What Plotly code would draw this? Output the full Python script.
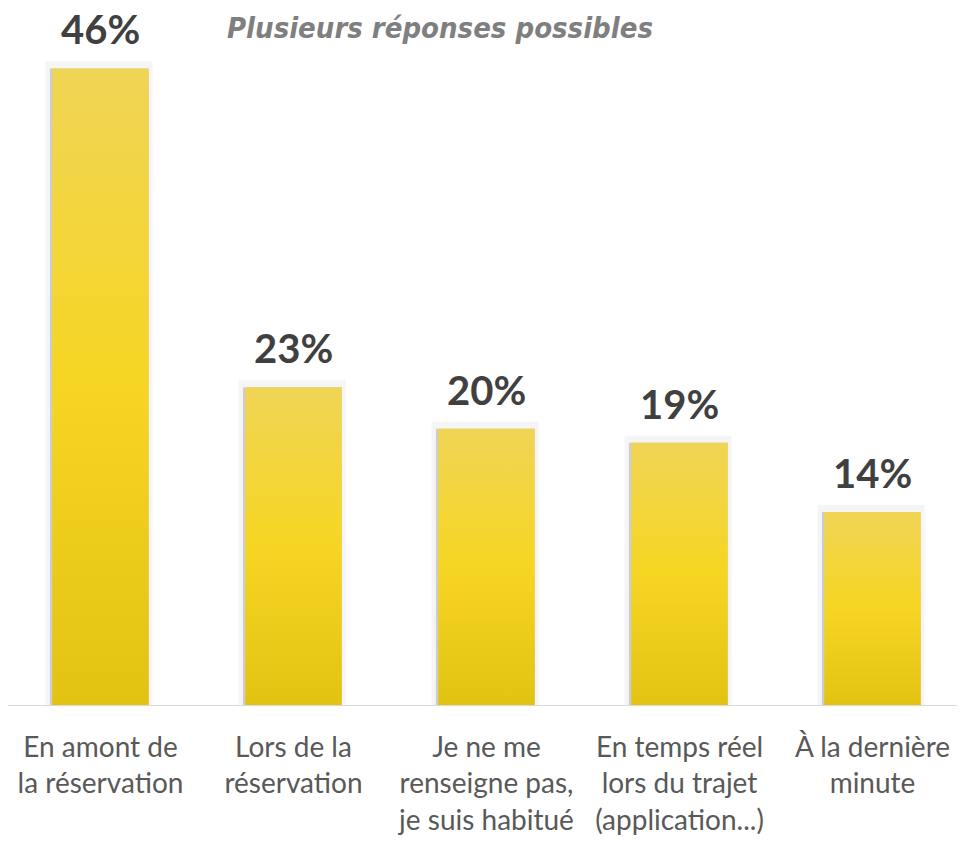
import plotly.graph_objects as go

categories = ["En amont de<br>la réservation", "Lors de la<br>réservation",
              "Je ne me<br>renseigne pas,<br>je suis habitué",
              "En temps réel<br>lors du trajet<br>(application...)",
              "À la dernière<br>minute"]
values = [46, 23, 20, 19, 14]
labels = ["46%", "23%", "20%", "19%", "14%"]

half = 0.25  # half bar width in category units

fig = go.Figure()

for i, v in enumerate(values):
    xs = [i - half, i - half, i + half, i + half, i - half]
    ys = [0, v, v, 0, 0]
    # soft shadow
    fig.add_trace(go.Scatter(x=[x - 0.035 if k in (0, 1, 4) else x + 0.02 for k, x in enumerate(xs)],
                             y=[y + 0.5 if y > 0 else 0 for y in ys],
                             fill="toself", fillcolor="rgba(0,0,0,0.04)", mode="none",
                             hoverinfo="skip", showlegend=False))
    fig.add_trace(go.Scatter(x=[x - 0.012 if k in (0, 1, 4) else x for k, x in enumerate(xs)],
                             y=ys, fill="toself", fillcolor="rgba(0,0,0,0.16)", mode="none",
                             hoverinfo="skip", showlegend=False))
    fig.add_trace(go.Scatter(x=xs, y=ys, fill="toself", mode="none",
                             fillgradient=dict(type="vertical", start=0, stop=v,
                                               colorscale=[[0, "#E3C312"], [0.5, "#F6D622"],
                                                           [1, "#F0D455"]]),
                             hoverinfo="skip", showlegend=False))
    fig.add_annotation(x=i, y=v, text=labels[i], showarrow=False, yanchor="bottom",
                       yshift=14, borderpad=0,
                       font=dict(family="Lato", size=40, color="#404040", weight="bold"))

# page body has an 8px margin, so the figure is laid out 8px in from the top/left
fig.add_annotation(text="<i><b>Plusieurs réponses possibles</b></i>", xref="paper", yref="paper",
                   x=432 / 965, y=(698 - 20) / 693, showarrow=False, yanchor="middle",
                   font=dict(family="DejaVu Sans Condensed", size=29, color="#7f7f7f"))

fig.update_layout(
    width=965, height=842,
    margin=dict(l=0, r=0, t=5, b=144),
    plot_bgcolor="white", paper_bgcolor="white",
    xaxis=dict(tickvals=list(range(len(categories))), ticktext=categories,
               range=[-92.5 / 193, 5 - 92.5 / 193], showgrid=False, zeroline=False,
               showline=False, ticks="", ticklabelstandoff=22,
               tickfont=dict(family="Lato", size=28, color="#595959")),
    yaxis=dict(range=[0, 50], visible=False, fixedrange=True),
    shapes=[dict(type="line", xref="paper", yref="y", x0=0, x1=1, y0=0, y1=0,
                 line=dict(color="#d9d9d9", width=2))],
)

fig.write_html("out.html")
